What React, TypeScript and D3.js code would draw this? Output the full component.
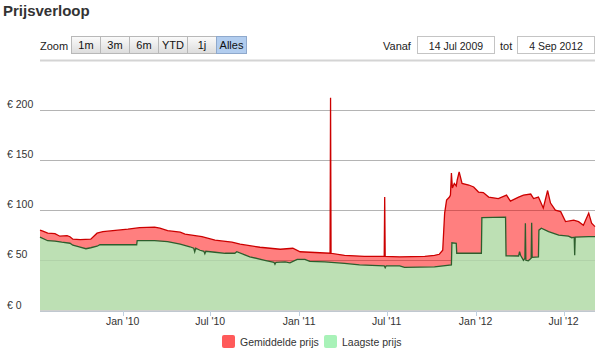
import React from "react";
import * as d3 from "d3";

// gemiddelde prijs (rode lijn), [datum, euro]
const gemiddeldePrijs: [string, number][] = [
  ["2009-07-14", 80], ["2009-07-20", 79], ["2009-07-30", 77], ["2009-08-14", 76.5],
  ["2009-08-24", 74], ["2009-09-08", 74.5], ["2009-09-14", 73.5], ["2009-09-20", 71],
  ["2009-10-05", 70.5], ["2009-10-27", 71], ["2009-11-09", 77], ["2009-11-21", 78.5],
  ["2009-12-22", 80], ["2010-01-12", 81], ["2010-02-05", 82.5], ["2010-03-08", 83],
  ["2010-03-19", 82], ["2010-04-04", 79.5], ["2010-04-30", 78], ["2010-05-10", 76],
  ["2010-05-31", 74.5], ["2010-06-14", 73.5], ["2010-07-11", 70], ["2010-08-15", 68],
  ["2010-09-01", 66], ["2010-10-12", 63], ["2010-11-23", 61], ["2010-12-19", 62],
  ["2011-01-03", 58.5], ["2011-02-13", 57.5], ["2011-03-06", 57], ["2011-03-07", 212],
  ["2011-03-08", 57], ["2011-04-05", 55], ["2011-05-16", 54], ["2011-06-26", 54],
  ["2011-06-27", 113], ["2011-06-28", 54], ["2011-07-28", 53.5], ["2011-09-18", 54],
  ["2011-10-08", 55], ["2011-10-18", 56], ["2011-10-25", 60], ["2011-10-29", 97],
  ["2011-11-02", 110], ["2011-11-08", 113], ["2011-11-10", 115], ["2011-11-12", 137],
  ["2011-11-14", 122], ["2011-11-18", 126.5], ["2011-11-22", 124], ["2011-11-24", 130],
  ["2011-11-28", 138], ["2011-12-04", 126.5], ["2011-12-18", 125], ["2011-12-28", 123],
  ["2012-01-07", 118], ["2012-01-17", 117.5], ["2012-01-28", 113], ["2012-02-17", 111.5],
  ["2012-03-05", 115], ["2012-03-13", 109], ["2012-03-30", 113], ["2012-04-09", 115],
  ["2012-04-24", 116], ["2012-04-30", 111.5], ["2012-05-10", 113], ["2012-05-20", 102],
  ["2012-05-29", 119.5], ["2012-06-04", 107], ["2012-06-14", 100], ["2012-06-25", 98.5],
  ["2012-07-05", 88.5], ["2012-07-22", 90], ["2012-08-01", 88.5], ["2012-08-11", 85],
  ["2012-08-22", 97], ["2012-08-28", 87], ["2012-09-04", 83.5],
];

// laagste prijs (groene lijn)
const laagstePrijs: [string, number][] = [
  ["2009-07-14", 73], ["2009-07-30", 69.5], ["2009-08-14", 69], ["2009-08-28", 68],
  ["2009-09-14", 67], ["2009-09-20", 65], ["2009-10-05", 63], ["2009-10-17", 61.5],
  ["2009-10-27", 62.5], ["2009-11-09", 64], ["2009-11-15", 65.5], ["2010-01-30", 65.5],
  ["2010-01-31", 69.5], ["2010-03-08", 69.5], ["2010-04-04", 68.5], ["2010-04-30", 66],
  ["2010-05-20", 63.5], ["2010-05-28", 62], ["2010-05-30", 58.5], ["2010-06-01", 62],
  ["2010-06-10", 60], ["2010-06-18", 59], ["2010-06-20", 56.5], ["2010-06-22", 59],
  ["2010-07-11", 58], ["2010-08-01", 57], ["2010-08-21", 57], ["2010-08-25", 58.5],
  ["2010-09-21", 53.5], ["2010-10-22", 50], ["2010-11-10", 48], ["2010-11-12", 46],
  ["2010-11-14", 48], ["2010-12-03", 48.5], ["2010-12-13", 47.5], ["2010-12-28", 51],
  ["2011-01-13", 51], ["2011-01-23", 49], ["2011-02-23", 48.5], ["2011-04-05", 47],
  ["2011-05-06", 45.5], ["2011-06-26", 44.5], ["2011-06-28", 42.5], ["2011-06-30", 44.5],
  ["2011-07-28", 44.5], ["2011-08-07", 43], ["2011-10-08", 43.5], ["2011-11-12", 45.5],
  ["2011-11-13", 67.5], ["2011-11-22", 67], ["2011-11-23", 57], ["2012-01-13", 57],
  ["2012-01-14", 92.5], ["2012-03-03", 93], ["2012-03-04", 54.5], ["2012-03-30", 54.3],
  ["2012-04-01", 58.5], ["2012-04-03", 55], ["2012-04-09", 50], ["2012-04-12", 52],
  ["2012-04-13", 87], ["2012-04-14", 50], ["2012-04-19", 49.5], ["2012-04-25", 52],
  ["2012-04-26", 87.5], ["2012-04-27", 53], ["2012-05-10", 53.5], ["2012-05-11", 80],
  ["2012-05-16", 82], ["2012-05-31", 78.5], ["2012-06-21", 75], ["2012-07-11", 74],
  ["2012-07-18", 72.5], ["2012-07-23", 73], ["2012-07-24", 55], ["2012-07-25", 73],
  ["2012-08-22", 73.5], ["2012-09-04", 73.5],
];

const yTicks = [0, 50, 100, 150, 200];
const yGridMax = 250;
const zoomButtons = ["1m", "3m", "6m", "YTD", "1j", "Alles"];
const activeButton = "Alles";
const startDate = "2009-07-14";
const endDate = "2012-09-04";
const startLabel = "14 Jul 2009";
const endLabel = "4 Sep 2012";
const legendItems = [
  { name: "Gemiddelde prijs", color: "#ff5a5a" },
  { name: "Laagste prijs", color: "#a8f2b8" },
];

const W = 600;
const H = 352;
const font = "'Liberation Sans', Arial, sans-serif";

type Pt = { date: Date; value: number };
const parse = d3.timeParse("%Y-%m-%d");
const toPts = (arr: [string, number][]): Pt[] =>
  arr.map(([d, v]) => ({ date: parse(d) as Date, value: v }));

const App: React.FC = () => {
  const avg = toPts(gemiddeldePrijs);
  const low = toPts(laagstePrijs);

  const x = d3
    .scaleTime()
    .domain([parse(startDate) as Date, parse(endDate) as Date])
    .range([40, 595]);
  const y = d3.scaleLinear().domain([0, yGridMax]).range([310.5, 59.5]);

  const area = d3
    .area<Pt>()
    .x((d) => x(d.date))
    .y0(y(0))
    .y1((d) => y(d.value));
  const line = d3
    .line<Pt>()
    .x((d) => x(d.date))
    .y((d) => y(d.value));

  const xTicks = x.ticks(d3.timeMonth.every(6) as d3.TimeInterval);
  const fmt = d3.timeFormat("%b '%y");

  const btnX0 = 71;
  const btnW = 29;

  return (
    <svg
      width={W}
      height={H}
      style={{ position: "absolute", left: 0, top: 0, background: "#fff" }}
      fontFamily={font}
    >
      <defs>
        <linearGradient id="btn" x1="0" y1="0" x2="0" y2="1">
          <stop offset="0" stopColor="#fbfbfb" />
          <stop offset="1" stopColor="#dcdcdc" />
        </linearGradient>
      </defs>

      <text x={3} y={16} fontSize={15} fontWeight="bold" fill="#333">
        Prijsverloop
      </text>

      {/* zoom knoppen */}
      <text x={40} y={49.5} fontSize={11} fill="#222">
        Zoom
      </text>
      {zoomButtons.map((b, i) => {
        const bx = btnX0 + i * btnW;
        const w = i === zoomButtons.length - 1 ? btnW + 1 : btnW;
        const active = b === activeButton;
        return (
          <g key={b}>
            <rect
              x={bx + 0.5}
              y={36.5}
              width={w}
              height={17}
              fill={active ? "#b2cdef" : "url(#btn)"}
              stroke={active ? "#8fa9cc" : "#b8b8b8"}
            />
            <text
              x={bx + 0.5 + w / 2}
              y={49}
              fontSize={11}
              textAnchor="middle"
              fill="#111"
            >
              {b}
            </text>
          </g>
        );
      })}

      {/* datum invoer */}
      <text x={383} y={49.5} fontSize={11} fill="#222">
        Vanaf
      </text>
      <rect x={417.5} y={36.5} width={77} height={17} fill="#fff" stroke="#c4c4c4" />
      <text x={456} y={49.5} fontSize={10.5} textAnchor="middle" fill="#222">
        {startLabel}
      </text>
      <text x={500} y={49.5} fontSize={11} fill="#222">
        tot
      </text>
      <rect x={517.5} y={36.5} width={77} height={17} fill="#fff" stroke="#c4c4c4" />
      <text x={556} y={49.5} fontSize={10.5} textAnchor="middle" fill="#222">
        {endLabel}
      </text>

      {/* rasterlijnen */}
      {[...yTicks, yGridMax].map((t) => (
        <line
          key={t}
          x1={40}
          x2={595}
          y1={Math.round(y(t)) + 0.5}
          y2={Math.round(y(t)) + 0.5}
          stroke={t === yGridMax ? "#d4d4d4" : "#c0c0c0"}
          strokeWidth={t === yGridMax ? 2 : 1}
        />
      ))}
      {yTicks.map((t) => (
        <text key={t} x={7} y={y(t) - 2} fontSize={10.5} fill="#333">
          € {t}
        </text>
      ))}

      {/* gebieden */}
      <path d={area(avg) || ""} fill="#ff0000" fillOpacity={0.5} />
      <path d={area(low) || ""} fill="#bde0b4" />
      {yTicks.slice(1).map((t) => (
        <line
          key={"o" + t}
          x1={40}
          x2={595}
          y1={Math.round(y(t)) + 0.5}
          y2={Math.round(y(t)) + 0.5}
          stroke="#000"
          strokeOpacity={0.06}
        />
      ))}
      <path d={line(avg) || ""} fill="none" stroke="#cc0000" strokeWidth={1.3} />
      <path d={line(low) || ""} fill="none" stroke="#2d5e2d" strokeWidth={1.3} />

      {/* x-as */}
      <line x1={40} x2={595} y1={311} y2={311} stroke="#c0d0e0" />
      {xTicks.map((t) => (
        <g key={t.getTime()}>
          <line
            x1={Math.round(x(t)) + 0.5}
            x2={Math.round(x(t)) + 0.5}
            y1={311}
            y2={316}
            stroke="#c0d0e0"
          />
          <text x={x(t)} y={324.5} fontSize={10.5} textAnchor="middle" fill="#333">
            {fmt(t)}
          </text>
        </g>
      ))}

      {/* legenda */}
      {legendItems.map((l, i) => {
        const lx = i === 0 ? 222 : 324;
        return (
          <g key={l.name}>
            <rect x={lx} y={335} width={13} height={13} rx={2} fill={l.color} />
            <text x={lx + 18} y={346} fontSize={10.5} fill="#333">
              {l.name}
            </text>
          </g>
        );
      })}
    </svg>
  );
};

export default App;
